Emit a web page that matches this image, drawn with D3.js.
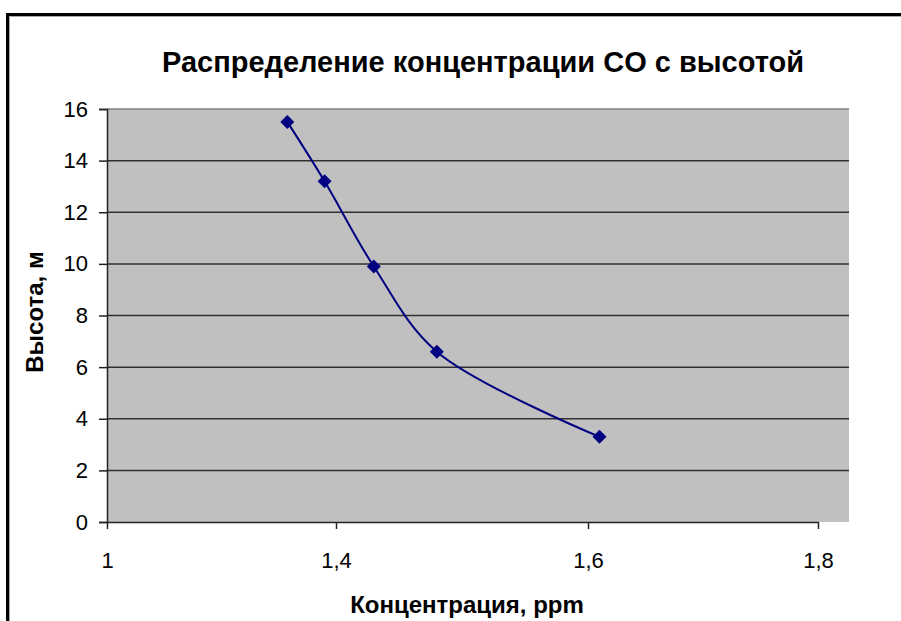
<!DOCTYPE html>
<html>
<head>
<meta charset="utf-8">
<script src="https://cdn.jsdelivr.net/npm/d3@7"></script>
<style>
  body { margin: 0; background: #fff; }
  text { font-family: Arial, "Liberation Sans", sans-serif; }
</style>
</head>
<body>
<svg width="901" height="621"></svg>
<script>
const concentration = [1.315, 1.38, 1.43, 1.48, 1.61];
const height = [15.5, 13.2, 9.9, 6.6, 3.3];
const xTicks = [1, 1.4, 1.6, 1.8];
const yTicks = [0, 2, 4, 6, 8, 10, 12, 14, 16];

const svg = d3.select("svg");

// outer chart frame (only top/left visible)
svg.append("rect")
  .attr("x", 7.5).attr("y", 14.5)
  .attr("width", 1000).attr("height", 1000)
  .attr("fill", "none").attr("stroke", "#000").attr("stroke-width", 3);
svg.append("path")
  .attr("d", "M9.5,1000V16.5H1000")
  .attr("fill", "none").attr("stroke", "#aaa").attr("stroke-width", 1);

const plotLeft = 107, plotRight = 849, plotTop = 109, plotBottom = 522;

// axis labels in the picture are not evenly spaced
const x = d3.scaleLinear().domain([1, 1.4, 1.6, 1.8]).range([plotLeft, 336, 588, 818]);
const y = d3.scaleLinear().domain([0, 16]).range([plotBottom, plotTop]);

svg.append("rect")
  .attr("x", plotLeft).attr("y", plotTop)
  .attr("width", plotRight - plotLeft).attr("height", plotBottom - plotTop)
  .attr("fill", "#c0c0c0");

svg.append("g")
  .selectAll("line")
  .data(yTicks.slice(1))
  .join("line")
  .attr("x1", plotLeft).attr("x2", plotRight)
  .attr("y1", d => y(d)).attr("y2", d => y(d))
  .attr("stroke", d => d === 16 ? "#808080" : "#303030")
  .attr("stroke-width", 1.5);

const yAxis = svg.append("g")
  .attr("transform", `translate(${plotLeft},0)`)
  .call(d3.axisLeft(y).tickValues(yTicks).tickSize(8).tickPadding(11));
yAxis.select(".domain").attr("stroke", "#222").attr("stroke-width", 1.5);
yAxis.selectAll(".tick line").attr("stroke", "#222").attr("stroke-width", 1.5);
yAxis.selectAll("text").style("font-size", "22px").attr("fill", "#000");

const xAxis = svg.append("g")
  .attr("transform", `translate(0,${plotBottom})`)
  .call(d3.axisBottom(x).tickValues(xTicks).tickSize(7).tickSizeOuter(0).tickPadding(23)
    .tickFormat(d => String(d).replace(".", ",")));
xAxis.select(".domain").attr("stroke", "#222").attr("stroke-width", 1.5);
xAxis.selectAll(".tick line").attr("stroke", "#222").attr("stroke-width", 1.5);
xAxis.selectAll("text").style("font-size", "22px").attr("fill", "#000");

const points = concentration.map((c, i) => [c, height[i]]);

svg.append("path")
  .datum(points)
  .attr("fill", "none")
  .attr("stroke", "#000080")
  .attr("stroke-width", 2)
  .attr("d", d3.line().x(d => x(d[0])).y(d => y(d[1])).curve(d3.curveCatmullRom.alpha(0.5)));

svg.append("g")
  .selectAll("path")
  .data(points)
  .join("path")
  .attr("transform", d => `translate(${x(d[0])},${y(d[1])})`)
  .attr("d", "M0,-7L7,0L0,7L-7,0Z")
  .attr("fill", "#000080");

svg.append("text")
  .attr("x", 483).attr("y", 72)
  .attr("text-anchor", "middle")
  .style("font-size", "29px").attr("font-weight", "bold")
  .text("Распределение концентрации CO с высотой");

svg.append("text")
  .attr("transform", "translate(43,312) rotate(-90)")
  .attr("text-anchor", "middle")
  .style("font-size", "24px").attr("font-weight", "bold")
  .text("Высота, м");

svg.append("text")
  .attr("x", 467).attr("y", 613)
  .attr("text-anchor", "middle")
  .style("font-size", "24px").attr("font-weight", "bold")
  .text("Концентрация, ppm");
</script>
</body>
</html>
